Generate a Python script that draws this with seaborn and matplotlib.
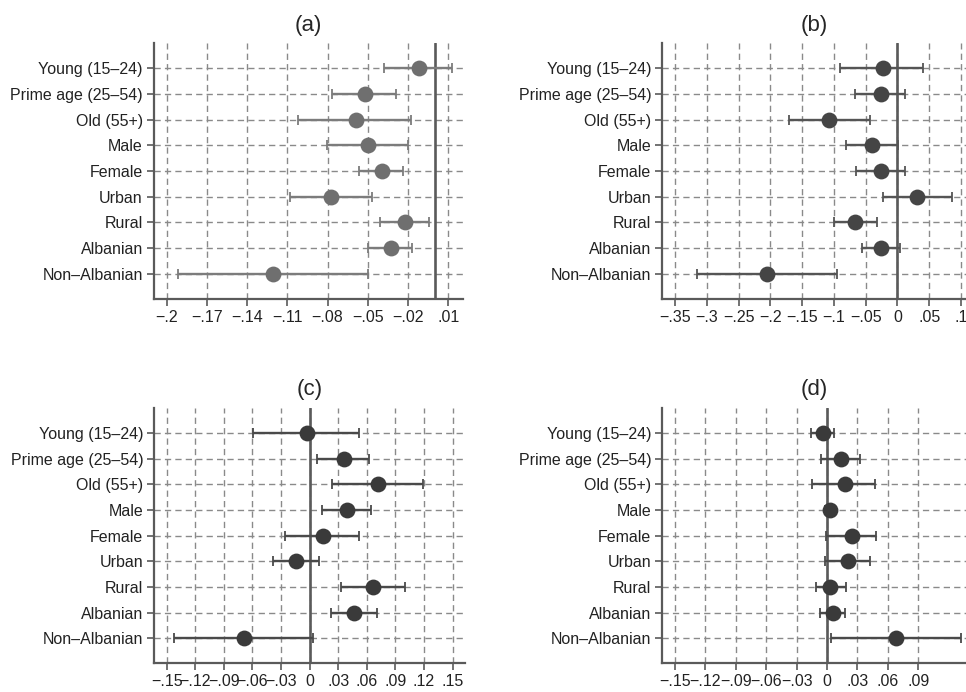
import matplotlib
matplotlib.use('Agg')
import matplotlib.pyplot as plt
import seaborn as sns
import numpy as np
import pandas as pd

categories = ['Young (15\u201324)', 'Prime age (25\u201354)', 'Old (55+)', 'Male', 'Female',
              'Urban', 'Rural', 'Albanian', 'Non\u2013Albanian']

# panel (a)
est_a = [-0.0118, -0.052, -0.059, -0.050, -0.0396, -0.0776, -0.0225, -0.0324, -0.1206]
lo_a = [-0.0379, -0.0766, -0.1024, -0.0803, -0.0567, -0.108, -0.0411, -0.0495, -0.1915]
hi_a = [0.013, -0.0292, -0.0178, -0.0197, -0.0237, -0.0468, -0.0046, -0.0168, -0.0495]
ticks_a = [-0.2, -0.17, -0.14, -0.11, -0.08, -0.05, -0.02, 0.01]

# panel (b)
est_b = [-0.023, -0.0257, -0.107, -0.040, -0.0257, 0.0305, -0.0667, -0.026, -0.205]
lo_b = [-0.0904, -0.066, -0.170, -0.081, -0.0647, -0.023, -0.0999, -0.055, -0.315]
hi_b = [0.041, 0.0121, -0.043, 0.0016, 0.0116, 0.0858, -0.0325, 0.0043, -0.0946]
ticks_b = [-0.35, -0.3, -0.25, -0.2, -0.15, -0.1, -0.05, 0, 0.05, 0.1]

# panel (c)
est_c = [-0.0031, 0.0357, 0.072, 0.0395, 0.014, -0.014, 0.0664, 0.0465, -0.0685]
lo_c = [-0.059, 0.0073, 0.0238, 0.0133, -0.0255, -0.038, 0.0325, 0.022, -0.142]
hi_c = [0.0517, 0.0622, 0.1186, 0.0647, 0.052, 0.0094, 0.100, 0.0703, 0.0039]
ticks_c = [-0.15, -0.12, -0.09, -0.06, -0.03, 0, 0.03, 0.06, 0.09, 0.12, 0.15]

# panel (d)
est_d = [-0.004, 0.0135, 0.0175, 0.0027, 0.0247, 0.0204, 0.0033, 0.006, 0.068]
lo_d = [-0.016, -0.0056, -0.0145, -0.002, -0.001, -0.0023, -0.0105, -0.0069, 0.004]
hi_d = [0.007, 0.0326, 0.0474, 0.007, 0.0487, 0.0428, 0.0185, 0.0178, 0.1317]
ticks_d = [-0.15, -0.12, -0.09, -0.06, -0.03, 0, 0.03, 0.06, 0.09]


def fmt(v):
    if abs(v) < 1e-9:
        return '0'
    s = ('%g' % abs(v)).lstrip('0')
    return ('\u2212' if v < 0 else '') + s


sns.set_style('white')
plt.rcParams['font.family'] = ['Liberation Sans', 'DejaVu Sans']

fig = plt.figure(figsize=(9.66, 6.92), dpi=100)

panels = [
    ('(a)', est_a, lo_a, hi_a, ticks_a, (-0.2095, 0.021), [0.1594, 0.5684, 0.3199, 0.369], '#6f6f6f', '#7c7c7c'),
    ('(b)', est_b, lo_b, hi_b, ticks_b, (-0.37, 0.108), [0.6856, 0.5684, 0.3144, 0.369], '#454545', '#555555'),
    ('(c)', est_c, lo_c, hi_c, ticks_c, (-0.163, 0.163), [0.1597, 0.0415, 0.3216, 0.369], '#3a3a3a', '#4a4a4a'),
    ('(d)', est_d, lo_d, hi_d, ticks_d, (-0.1625, 0.137), [0.6856, 0.0415, 0.3144, 0.369], '#3a3a3a', '#4a4a4a'),
]

spine_col = '#5a5a5a'
grid_col = '#8a8a8a'

for title, est, lo, hi, ticks, xlim, pos, mcol, lcol in panels:
    ax = fig.add_axes(pos)
    df = pd.DataFrame({'category': categories, 'est': est, 'lo': lo, 'hi': hi})
    df['row'] = np.arange(len(df))

    # grid lines
    for t in ticks:
        ax.axvline(t, color=grid_col, lw=1.0, ls=(0, (4.5, 3)), zorder=0)
    for r in df['row']:
        ax.axhline(r, color=grid_col, lw=1.0, ls=(0, (4.5, 3)), zorder=0)
    ax.axvline(0, color=spine_col, lw=1.9, zorder=1)

    ax.errorbar(df['est'], df['row'],
                xerr=[df['est'] - df['lo'], df['hi'] - df['est']],
                fmt='none', ecolor=lcol, elinewidth=1.7, capsize=3.5, capthick=1.3, zorder=2)
    sns.scatterplot(data=df, x='est', y='row', ax=ax, s=130, color=mcol,
                    edgecolor=mcol, linewidth=0, zorder=3, legend=False)

    ax.set_xlim(*xlim)
    ax.set_ylim(len(categories) - 0.03, -0.97)
    ax.set_xticks(ticks)
    ax.set_xticklabels([fmt(t) for t in ticks], fontsize=11.5)
    ax.set_yticks(df['row'])
    ax.set_yticklabels(categories, fontsize=11.5)
    ax.set_xlabel('')
    ax.set_ylabel('')
    ax.set_title(title, fontsize=16, pad=9)

    for side in ['top', 'right']:
        ax.spines[side].set_visible(False)
    for side in ['left', 'bottom']:
        ax.spines[side].set_color(spine_col)
        ax.spines[side].set_linewidth(1.6)
    ax.tick_params(axis='both', which='both', direction='out', length=5, width=1.2,
                   color=spine_col, labelcolor='#222222', pad=3, left=True, bottom=True)

fig.savefig('out.png', dpi=100)
plt.close(fig)
